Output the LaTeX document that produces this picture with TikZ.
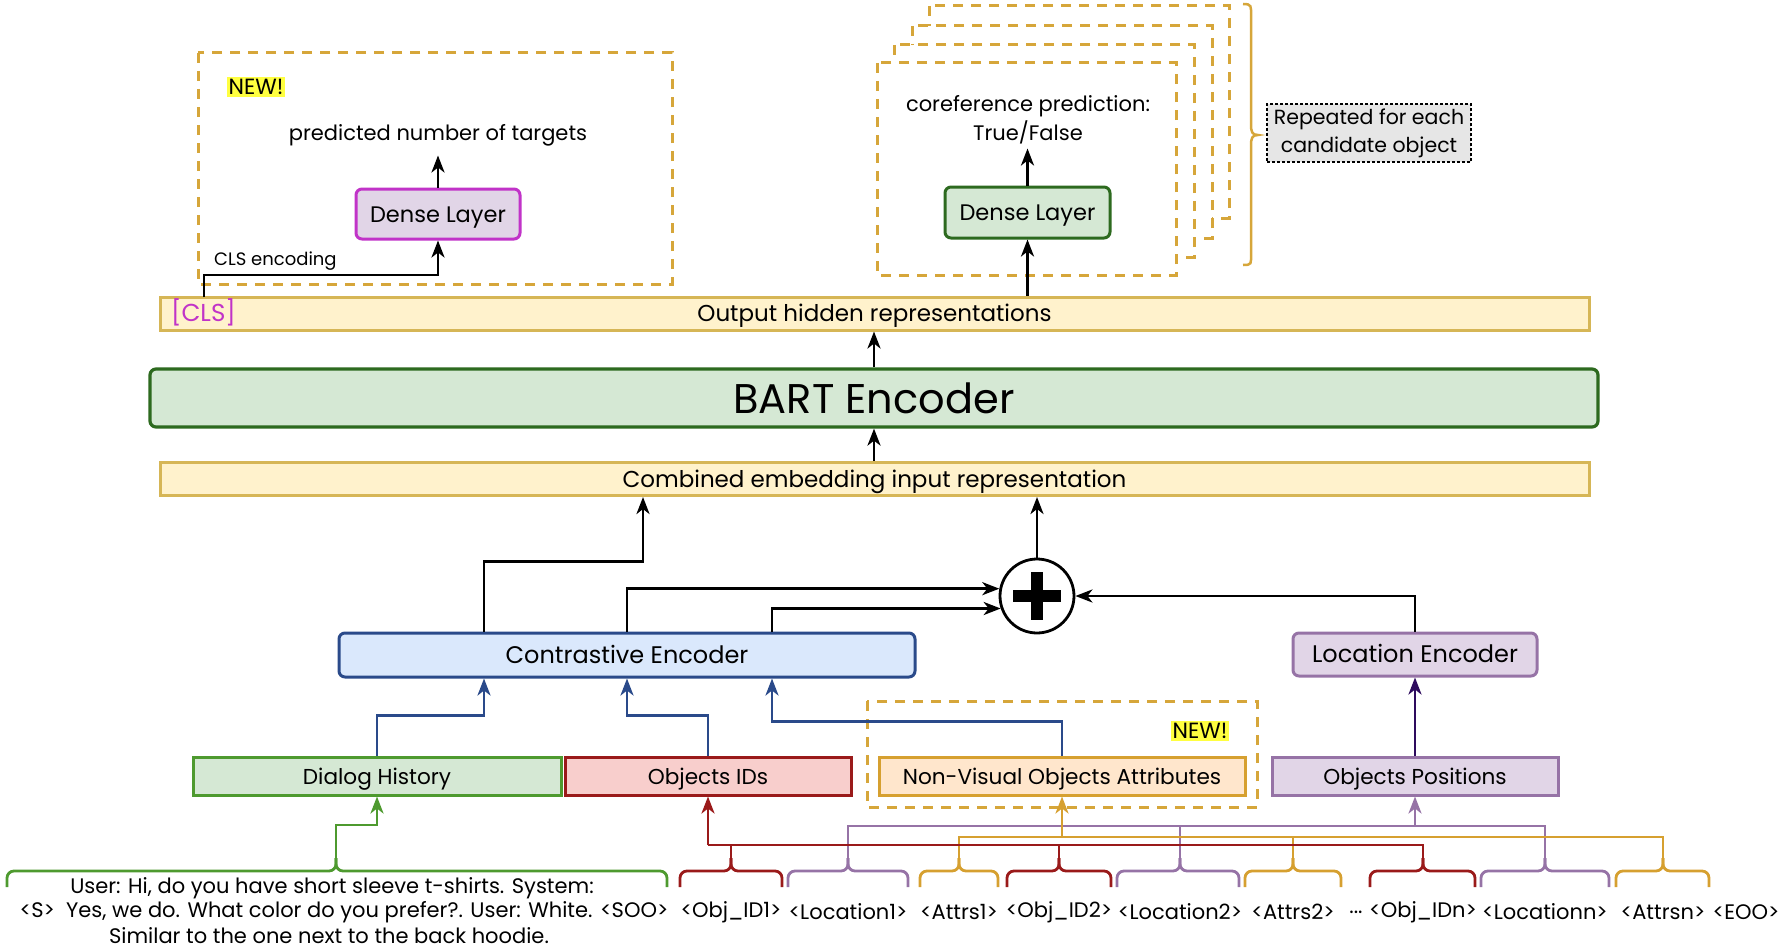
\documentclass[tikz,border=0pt]{standalone}
\usepackage{fontspec}
\setmainfont{Poppins}
\usetikzlibrary{arrows.meta,calc}
\newcommand{\fsz}[1]{\fontsize{#1}{#1}\selectfont}
\definecolor{barfill}{HTML}{FFF2CC}
\definecolor{barline}{HTML}{D6B656}
\definecolor{gfill}{HTML}{D5E8D4}
\definecolor{gdark}{HTML}{2D6A1F}
\definecolor{glight}{HTML}{4E9A2F}
\definecolor{bfill}{HTML}{DAE8FC}
\definecolor{bline}{HTML}{2A4A8A}
\definecolor{rfill}{HTML}{F8CECC}
\definecolor{rline}{HTML}{9A1A1A}
\definecolor{ofill}{HTML}{FFE6CC}
\definecolor{oline}{HTML}{D6A030}
\definecolor{pfill}{HTML}{E1D5E7}
\definecolor{pline}{HTML}{9673A6}
\definecolor{pdark}{HTML}{2E0B5E}
\definecolor{mline}{HTML}{C133C8}
\definecolor{gold}{HTML}{D6A63A}
\definecolor{hl}{HTML}{FFFF40}
\definecolor{grayfill}{HTML}{E6E6E6}
\tikzset{
  box/.style={draw, line width=3pt, rounded corners=6pt, inner sep=0pt, align=center, text height=20pt, text depth=4pt},
  sqbox/.style={draw, line width=3pt, inner sep=0pt, align=center, text height=20pt, text depth=4pt},
  bar/.style={draw=barline, fill=barfill, line width=3pt, inner sep=0pt, minimum width=1429pt, minimum height=33pt},
  bartxt/.style={inner sep=0pt, text height=20pt, text depth=4pt},
  golddash/.style={draw=gold, line width=3pt, dash pattern=on 10pt off 8pt, fill=white},
  arr/.style={line width=2.8pt, -{Stealth[length=17pt,width=13pt,inset=5pt]}},
  ln/.style={line width=2.8pt},
  brc/.style={line width=2.8pt, rounded corners=7pt},
  txt/.style={inner sep=0pt, align=center},
  newlbl/.style={fill=hl, inner sep=2pt, font=\fsz{22}}
}
\begin{document}
\begin{tikzpicture}[x=1pt,y=-1pt]
\useasboundingbox (0,0) rectangle (1792,950);

% ---------- left top dashed box ----------
\draw[golddash] (198,53) rectangle (672,284);
\node[newlbl] (new1) at (256,87) {NEW!};
\node[txt, font=\fsz{21}] (pred) at (438,135) {predicted number of targets};
\node[box, draw=mline, fill=pfill, minimum width=164pt, minimum height=50pt, font=\fsz{22.5}] (dense1) at (438,214) {Dense Layer};

% ---------- stacked dashed boxes ----------
\draw[golddash] (929,6) rectangle (1229,218);
\draw[golddash] (912,26) rectangle (1212,238);
\draw[golddash] (894,45) rectangle (1194,257);
\draw[golddash] (877,63) rectangle (1176,275);
\node[txt, font=\fsz{21}] (coref) at (1028,120) {coreference prediction:\\[3pt]True/False};
\node[box, draw=gdark, fill=gfill, minimum width=165pt, minimum height=51pt, font=\fsz{22.5}] (dense2) at (1027.5,212.5) {Dense Layer};

% brace on the right
\draw[gold, line width=2.5pt] (1243,4) .. controls (1252,4) and (1251,6) .. (1251,16) -- (1251,124) .. controls (1251,132) and (1252,135) .. (1258,135) .. controls (1252,135) and (1251,138) .. (1251,146) -- (1251,254) .. controls (1251,264) and (1252,265) .. (1243,265);
\node[draw, line width=1.5pt, dash pattern=on 3pt off 2pt, fill=grayfill, minimum width=204pt, minimum height=58pt, inner sep=0pt, align=center, font=\fsz{20.5}] (rep) at (1369,133) {Repeated for each\\[6pt]candidate object};

% ---------- bars and BART ----------
\node[bar] (outbar) at (874.5,313.5) {};
\node[bartxt, font=\fsz{23}] at (outbar.center) {Output hidden representations};
\node[bartxt, font=\fsz{24.5}, text=mline, anchor=west] (cls) at (171,313.5) {[CLS]};
\node[draw, rounded corners=6pt, inner sep=0pt, draw=gdark, fill=gfill, minimum width=1448pt, minimum height=58pt, font=\fsz{41.5}, line width=3.2pt] (bart) at (874,398) {BART Encoder};
\node[bar] (combar) at (874.5,479) {};
\node[bartxt, font=\fsz{23}] at (combar.center) {Combined embedding input representation};

% ---------- middle ----------
\node[draw, circle, line width=2.8pt, minimum size=74pt, inner sep=0pt, fill=white] (plus) at (1037,596) {};
\fill (1013,590) rectangle (1061,602);
\fill (1031,572) rectangle (1043,620);

\node[box, draw=bline, fill=bfill, minimum width=576pt, minimum height=44pt, font=\fsz{24}] (ce) at (627,655) {Contrastive Encoder};
\node[box, draw=pline, fill=pfill, minimum width=244pt, minimum height=43pt, font=\fsz{24}] (le) at (1415,654.5) {Location Encoder};

\draw[golddash] (867,701) rectangle (1257,807);
\node[newlbl] (new2) at (1200,731) {NEW!};

\node[sqbox, draw=glight, fill=gfill, minimum width=368pt, minimum height=38pt, font=\fsz{21.6}] (dh) at (377,776) {Dialog History};
\node[sqbox, draw=rline, fill=rfill, minimum width=286pt, minimum height=38pt, font=\fsz{21.6}] (oid) at (708,776) {Objects IDs};
\node[sqbox, draw=oline, fill=ofill, minimum width=366pt, minimum height=38pt, font=\fsz{21.6}] (nv) at (1062,776) {Non-Visual Objects Attributes};
\node[sqbox, draw=pline, fill=pfill, minimum width=286pt, minimum height=38pt, font=\fsz{21.6}] (op) at (1415,776) {Objects Positions};

% ---------- black connectors ----------
\coordinate (clsstart) at (204,297);
\draw[arr] (clsstart) -- ++(0,-22) -| (dense1.south);
\node[txt, font=\fsz{18}, anchor=south west] (clsenc) at (214,271) {CLS encoding};
\draw[arr] (dense1.north) -- ++(0,-32);
\draw[arr] (dense2.south |- outbar.north) -- (dense2.south);
\draw[arr] (dense2.north) -- ++(0,-37);
\draw[arr] (bart.north) -- (bart.north |- outbar.south);
\draw[arr] (bart.south |- combar.north) -- (bart.south);
\draw[arr] ([xshift=-143pt]ce.north) -- ++(0,-70) -| ([xshift=-231.5pt]combar.south);
\draw[arr] (ce.north) |- (plus.169);
\draw[arr] ([xshift=145pt]ce.north) |- (plus.199);
\draw[arr] (le.north) |- (plus.east);
\draw[arr] (plus.north) -- (plus.north |- combar.south);

% ---------- blue connectors ----------
\draw[arr, bline] (dh.north) -- ++(0,-40) -| ([xshift=-143pt]ce.south);
\draw[arr, bline] (oid.north) -- ++(0,-40) -| (ce.south);
\draw[arr, bline] (nv.north) -- ++(0,-34) -| ([xshift=145pt]ce.south);
\draw[arr, pdark] (op.north) -- (le.south);

% ---------- bottom braces ----------
% green
\draw[brc, glight] (7,887) -- (7,871) -- (336,871) -- (336,858);
\draw[brc, glight] (667,887) -- (667,871) -- (336,871) -- (336,858);
\coordinate (tG) at (336,858);
% red
\foreach \a/\b/\c/\n in {680/731/782/1, 1007/1059/1111/2, 1370/1423/1475/3}{
  \draw[brc, rline] (\a,887) -- (\a,871) -- (\b,871) -- (\b,858);
  \draw[brc, rline] (\c,887) -- (\c,871) -- (\b,871) -- (\b,858);
  \coordinate (tR\n) at (\b,858);
}
% purple
\foreach \a/\b/\c/\n in {788/848/908/1, 1117/1180/1239/2, 1481/1545/1609/3}{
  \draw[brc, pline] (\a,887) -- (\a,871) -- (\b,871) -- (\b,858);
  \draw[brc, pline] (\c,887) -- (\c,871) -- (\b,871) -- (\b,858);
  \coordinate (tP\n) at (\b,858);
}
% gold
\foreach \a/\b/\c/\n in {920/959/998/1, 1245/1293/1341/2, 1616/1663/1709/3}{
  \draw[brc, oline] (\a,887) -- (\a,871) -- (\b,871) -- (\b,858);
  \draw[brc, oline] (\c,887) -- (\c,871) -- (\b,871) -- (\b,858);
  \coordinate (tO\n) at (\b,858);
}
% buses
\draw[ln, pline] (tP1) -- (848,826) -- (1545,826) -- (tP3);
\draw[ln, pline] (tP2) -- (1180,826);
\draw[arr, pline] (1415,826) -- (op.south);
\draw[ln, oline] (tO1) -- (959,837) -- (1663,837) -- (tO3);
\draw[ln, oline] (tO2) -- (1293,837);
\draw[arr, oline] (1062,837) -- (nv.south);
\draw[ln, rline] (708,845) -- (1423,845) -- (tR3);
\draw[ln, rline] (tR1) -- (731,845);
\draw[ln, rline] (tR2) -- (1059,845);
\draw[arr, rline] (708,845) -- (oid.south);
\draw[arr, glight] (tG) |- ++(41,-33) -- (dh.south);

% ---------- bottom text ----------
\begin{scope}[every node/.style={txt, font=\fsz{21}}]
\node (l1) at (332,888) {User: Hi, do you have short sleeve t-shirts. System:};
\node (l2) at (344,912) {<S>\ \ Yes, we do. What color do you prefer?. User: White. <SOO>};
\node (l3) at (329,936) {Similar to the one next to the back hoodie.};
\node (k1) at (731,912) {<Obj\_ID1>};
\node (k2) at (848,912) {<Location1>};
\node (k3) at (959,912) {<Attrs1>};
\node (k4) at (1059,912) {<Obj\_ID2>};
\node (k5) at (1180,912) {<Location2>};
\node (k6) at (1293,912) {<Attrs2>};
\node (k7) at (1356,912) {...};
\node (k8) at (1423,912) {<Obj\_IDn>};
\node (k9) at (1545,912) {<Locationn>};
\node (k10) at (1663,912) {<Attrsn>};
\node (k11) at (1746,912) {<EOO>};
\end{scope}
\end{tikzpicture}
\end{document}
